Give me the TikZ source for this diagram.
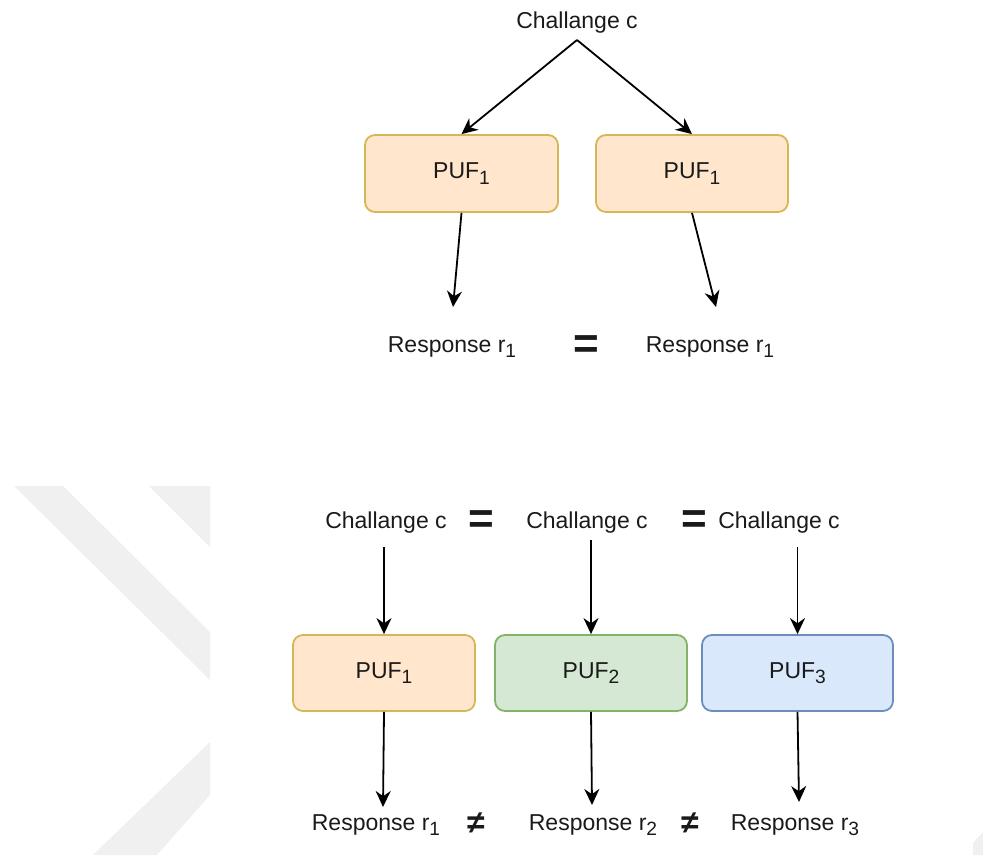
\documentclass[tikz,border=0pt]{standalone}
\usepackage{fontspec}
\setmainfont{Liberation Sans}
\usetikzlibrary{arrows.meta,calc}
\definecolor{orfill}{HTML}{FFE6CC}
\definecolor{orline}{HTML}{D6B656}
\definecolor{grfill}{HTML}{D5E8D4}
\definecolor{grline}{HTML}{82B366}
\definecolor{blfill}{HTML}{DAE8FC}
\definecolor{blline}{HTML}{6C8EBF}
\definecolor{txt}{HTML}{1A1A1A}
\definecolor{wmgray}{HTML}{F0F0F0}
\newcommand{\mysub}[1]{\raisebox{-2.6pt}{\fontsize{9.6}{10}\selectfont #1}}
\begin{document}
\begin{tikzpicture}[x=0.5pt,y=-0.5pt,
  every node/.style={font=\fontsize{11.5}{13}\selectfont, text=txt},
  lbl/.style={inner sep=0pt, anchor=base},
  puf/.style={draw, rounded corners=5pt, line width=0.9pt, minimum height=38.5pt, inner sep=0pt},
  arr/.style={-{Stealth[length=8pt,width=7.5pt,inset=2.6pt]}, line width=0.9pt},
  eqs/.style={font=\fontsize{22}{24}\selectfont\bfseries, inner sep=0pt},
  neq/.style={font=\fontsize{16}{18}\selectfont\bfseries, inner sep=0pt, text=txt},
  wm/.style={fill=wmgray, draw=none}]
\useasboundingbox (0,0) rectangle (983,855);
% faint watermark
\fill[wm] (14,486) -- (63,486) -- (210,632) -- (210,680) -- cycle;
\fill[wm] (149,486) -- (210,486) -- (210,547) -- cycle;
\fill[wm] (210,742) -- (210,795) -- (157,855) -- (93,855) -- cycle;
\fill[wm] (973,855) -- (973,843) -- (983,832) -- (983,855) -- cycle;

% top part
\node[lbl] (c0) at (577,29) {Challange c};
\node[puf, fill=orfill, draw=orline, minimum width=96.5pt] (a1) at (461.5,173.5) {PUF\mysub{1}};
\node[puf, fill=orfill, draw=orline, minimum width=96pt] (a2) at (692,173.5) {PUF\mysub{1}};
\node[lbl] (ra1) at (452,352) {Response r\mysub{1}};
\node[lbl] (ra2) at (710,352) {Response r\mysub{1}};
\node[eqs] (e0) at (586,347) {=};
\coordinate (ta1) at (453,307);
\coordinate (ta2) at (716,307);
\draw[arr] ($(c0.base)+(0,11)$) -- (a1.north);
\draw[arr] ($(c0.base)+(0,11)$) -- (a2.north);
\draw[arr] (a1.south) -- (ta1);
\draw[arr] (a2.south) -- (ta2);

% bottom part
\node[lbl] (c1) at (386,528) {Challange c};
\node[lbl] (c2) at (587,528) {Challange c};
\node[lbl] (c3) at (779,528) {Challange c};
\node[eqs] (e1) at (481,522) {=};
\node[eqs] (e2) at (694,522) {=};
\node[puf, fill=orfill, draw=orline, minimum width=91pt, minimum height=38pt] (b1) at (384,673) {PUF\mysub{1}};
\node[puf, fill=grfill, draw=grline, minimum width=96pt, minimum height=38pt] (b2) at (591,673) {PUF\mysub{2}};
\node[puf, fill=blfill, draw=blline, minimum width=95.5pt, minimum height=38pt] (b3) at (797.5,673) {PUF\mysub{3}};
\draw[arr] ($(b1.north |- c1.base)+(0,19)$) -- (b1.north);
\draw[arr] ($(b2.north |- c2.base)+(0,12)$) -- (b2.north);
\draw[arr] ($(b3.north |- c3.base)+(0,19)$) -- (b3.north);
\coordinate (tb1) at (383,807);
\coordinate (tb2) at (592,805);
\coordinate (tb3) at (799,802);
\draw[arr] (b1.south) -- (tb1);
\draw[arr] (b2.south) -- (tb2);
\draw[arr] (b3.south) -- (tb3);
\node[lbl] (rb1) at (376,830) {Response r\mysub{1}};
\node[lbl] (rb2) at (593,830) {Response r\mysub{2}};
\node[lbl] (rb3) at (795,830) {Response r\mysub{3}};
\node[neq] (n1) at (476,823) {≠};
\node[neq] (n2) at (690,823) {≠};
\end{tikzpicture}
\end{document}
